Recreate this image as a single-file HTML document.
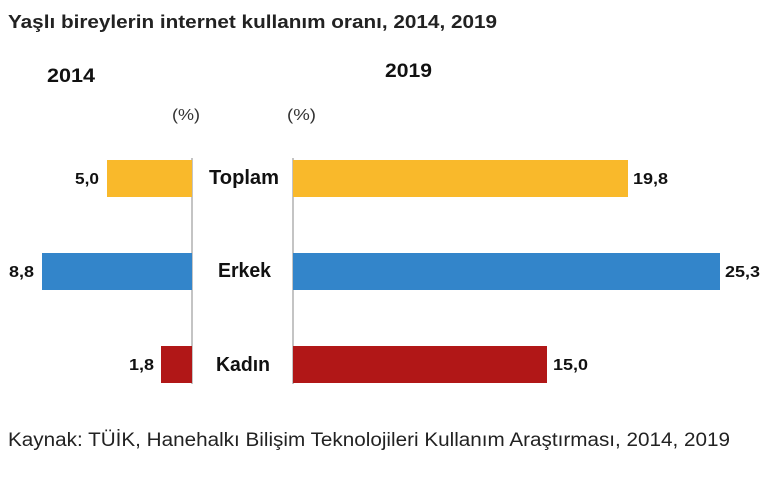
<!DOCTYPE html>
<html><head><meta charset="utf-8"><style>
body{margin:0;background:#fff;width:770px;height:475px;overflow:hidden;font-family:"Liberation Sans",sans-serif;}
svg text{font-family:"Liberation Sans",sans-serif;}
</style></head><body>
<svg width="770" height="475" xmlns="http://www.w3.org/2000/svg">
<text x="8" y="28" font-size="18" font-weight="bold" fill="#222" textLength="489" lengthAdjust="spacingAndGlyphs">Yaşlı bireylerin internet kullanım oranı, 2014, 2019</text>
<text x="47" y="82" font-size="19" font-weight="bold" fill="#111" textLength="48" lengthAdjust="spacingAndGlyphs">2014</text>
<text x="385" y="77" font-size="19" font-weight="bold" fill="#111" textLength="47" lengthAdjust="spacingAndGlyphs">2019</text>
<text x="172" y="120" font-size="16" fill="#333" textLength="28" lengthAdjust="spacingAndGlyphs">(%)</text>
<text x="287" y="120" font-size="16" fill="#333" textLength="29" lengthAdjust="spacingAndGlyphs">(%)</text>
<line x1="192" y1="158" x2="192" y2="384" stroke="#888" stroke-width="1"/>
<line x1="293" y1="158" x2="293" y2="384" stroke="#888" stroke-width="1"/>
<rect x="107" y="160" width="85" height="37" fill="#F9B92B"/>
<rect x="42" y="253" width="150" height="37" fill="#3385CA"/>
<rect x="161" y="346" width="31" height="37" fill="#B11717"/>
<rect x="293" y="160" width="335" height="37" fill="#F9B92B"/>
<rect x="293" y="253" width="427" height="37" fill="#3385CA"/>
<rect x="293" y="346" width="254" height="37" fill="#B11717"/>
<g font-size="16" font-weight="bold" fill="#111">
<text x="75" y="184" textLength="24" lengthAdjust="spacingAndGlyphs">5,0</text>
<text x="9" y="277" textLength="25" lengthAdjust="spacingAndGlyphs">8,8</text>
<text x="129" y="370" textLength="25" lengthAdjust="spacingAndGlyphs">1,8</text>
<text x="633" y="184" textLength="35" lengthAdjust="spacingAndGlyphs">19,8</text>
<text x="725" y="277" textLength="35" lengthAdjust="spacingAndGlyphs">25,3</text>
<text x="553" y="370" textLength="35" lengthAdjust="spacingAndGlyphs">15,0</text>
</g>
<g font-size="20" font-weight="bold" fill="#111">
<text x="209" y="184" textLength="70" lengthAdjust="spacingAndGlyphs">Toplam</text>
<text x="218" y="277" textLength="53" lengthAdjust="spacingAndGlyphs">Erkek</text>
<text x="216" y="371" textLength="54" lengthAdjust="spacingAndGlyphs">Kadın</text>
</g>
<text x="8" y="446" font-size="19" fill="#222" textLength="722" lengthAdjust="spacingAndGlyphs">Kaynak: TÜİK, Hanehalkı Bilişim Teknolojileri Kullanım Araştırması, 2014, 2019</text>
</svg>
</body></html>
